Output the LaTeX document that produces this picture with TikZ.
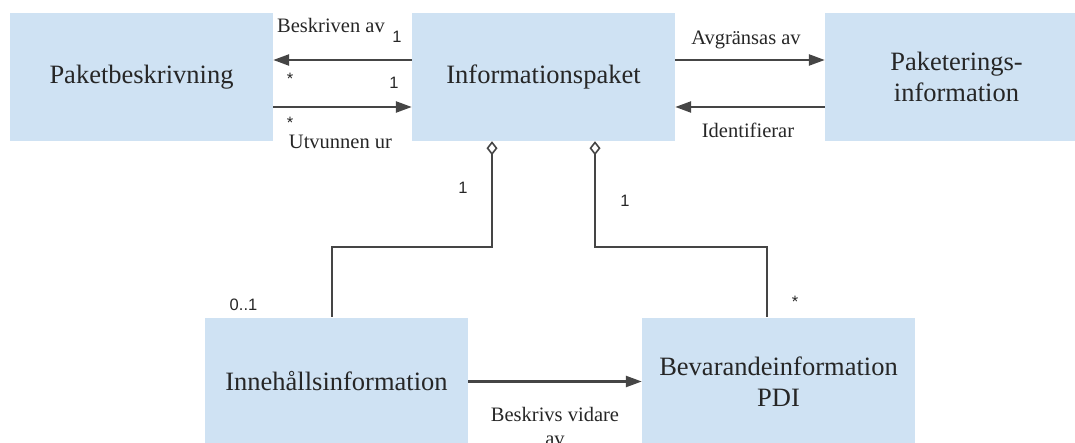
\documentclass[tikz,border=0pt]{standalone}
\usepackage{fontspec}
\setmainfont{Liberation Serif}
\newfontfamily\seriffont{Liberation Serif}
\newfontfamily\numfont{Liberation Sans}
\usetikzlibrary{arrows.meta}
\definecolor{boxfill}{HTML}{CFE2F3}
\definecolor{lineclr}{HTML}{454545}
\definecolor{txt}{HTML}{262626}
\tikzset{
  umlbox/.style={fill=boxfill, draw=none, inner sep=0pt, align=center, text=txt,
    font=\seriffont\fontsize{26.5}{31}\selectfont},
  arr/.style={draw=lineclr, line width=2.5pt, -{Triangle[length=16pt,width=11pt]}},
  conn/.style={draw=lineclr, line width=2pt},
  agg/.style={{Diamond[open,length=14pt,width=11pt,line width=1.6pt,fill=white]}-},
  lbl/.style={text=txt, inner sep=0pt, font=\seriffont\fontsize{20.5}{24}\selectfont},
  mult/.style={text=txt, inner sep=0pt, font=\numfont\fontsize{16.5}{19}\selectfont},
}
\begin{document}
\begin{tikzpicture}[x=1pt,y=-1pt]
\useasboundingbox (0,0) rectangle (1075,443);
% boxes
\node[umlbox, minimum width=263pt, minimum height=128pt] (pb) at (141.5,77) {Paketbeskrivning};
\node[umlbox, minimum width=263pt, minimum height=128pt] (ip) at (543.5,77) {Informationspaket};
\node[umlbox, minimum width=263pt, minimum height=128pt] (pi) at (956.5,77) {Paketerings-\\information};
\node[umlbox, minimum width=263pt, minimum height=128pt] (ih) at (336.5,381.5) {Innehållsinformation};
\node[umlbox, minimum width=273pt, minimum height=128pt] (bp) at (778.5,381.5) {Bevarandeinformation\\PDI};
% top-left arrows
\draw[arr] ([yshift=17pt]ip.west) -- ([yshift=17pt]pb.east);
\draw[arr] ([yshift=-30pt]pb.east) -- ([yshift=-30pt]ip.west);
% top-right arrows
\draw[arr] ([yshift=17pt]ip.east) -- ([yshift=17pt]pi.west);
\draw[arr] ([yshift=-30pt]pi.west) -- ([yshift=-30pt]ip.east);
% bottom arrow
\draw[arr] (ih.east) -- (bp.west);
% aggregations
\draw[conn, agg] ([xshift=-51.5pt]ip.south) -- ++(0,106) -| ([xshift=-4.5pt]ih.north);
\draw[conn, agg] ([xshift=51.5pt]ip.south) -- ++(0,106) -| ([xshift=-11.5pt]bp.north);
% labels
\node[lbl, anchor=base] (l1) at (331,33) {Beskriven av};
\node[lbl, anchor=base] (l2) at (340.5,149) {Utvunnen ur};
\node[lbl, anchor=base] (l3) at (746,45) {Avgränsas av};
\node[lbl, anchor=base] (l4) at (748,138) {Identifierar};
\node[lbl, anchor=north, align=center] (l5) at (555,407) {Beskrivs vidare\\av};
% multiplicities
\node[mult] (m1) at (397,37) {1};
\node[mult] (m2) at (290,79) {*};
\node[mult] (m3) at (394,83) {1};
\node[mult] (m4) at (290,123) {*};
\node[mult] (m5) at (463,188) {1};
\node[mult] (m6) at (625,201) {1};
\node[mult] (m7) at (243.5,305) {0..1};
\node[mult] (m8) at (795,302) {*};
\end{tikzpicture}
\end{document}
